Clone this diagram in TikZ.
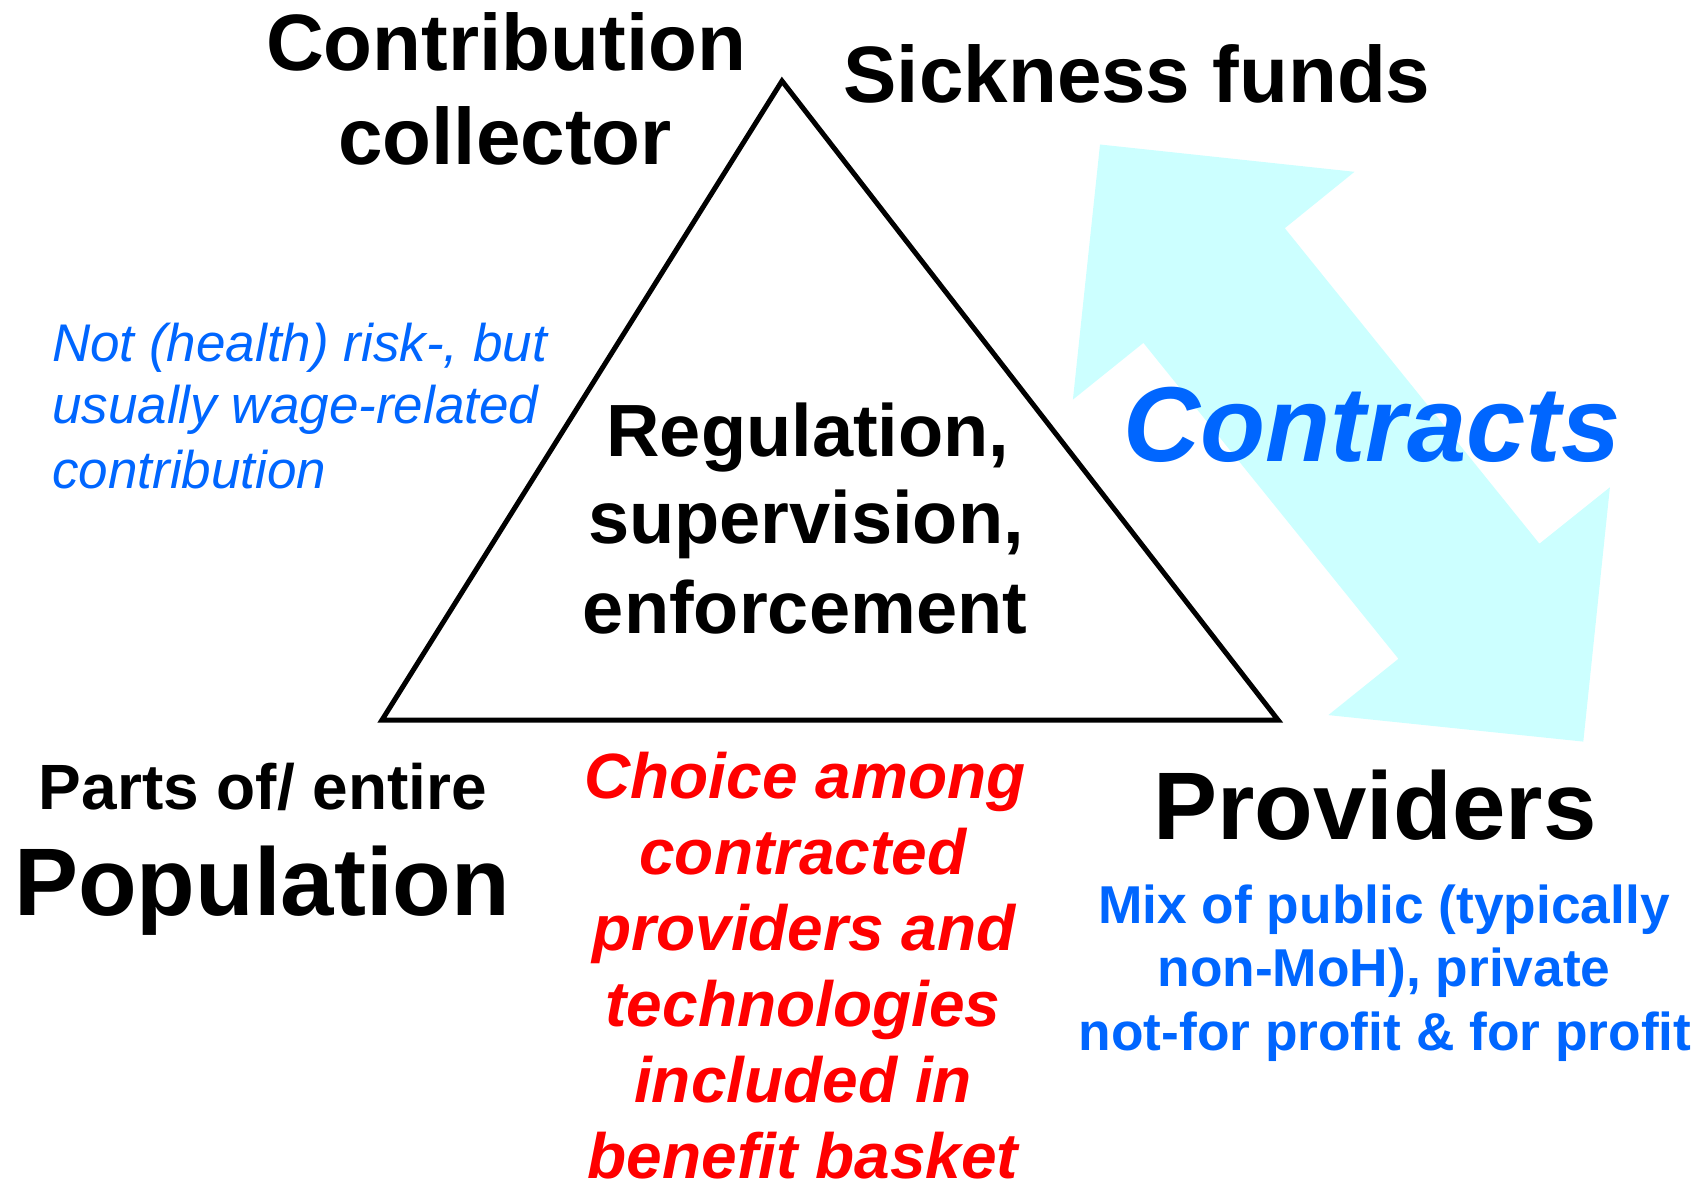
\documentclass[tikz,border=0pt]{standalone}
\usepackage{fontspec}
\setmainfont{Liberation Sans}
\definecolor{txtblue}{HTML}{0066FF}
\definecolor{arrowcyan}{HTML}{CCFFFF}
\definecolor{txtred}{HTML}{FF0000}
\tikzset{
  lbl/.style={inner sep=0pt, anchor=base, font=\bfseries},
  blueit/.style={inner sep=0pt, anchor=base west, text=txtblue, font=\itshape\fontsize{53}{62}\selectfont},
  redit/.style={lbl, text=txtred, font=\bfseries\itshape\fontsize{64}{76}\selectfont},
  mixtxt/.style={lbl, text=txtblue, font=\bfseries\fontsize{53.3}{63}\selectfont},
  regtxt/.style={lbl, font=\bfseries\fontsize{74}{87}\selectfont},
  tri/.style={draw=black, line width=5pt, miter limit=10},
}
\begin{document}
\begin{tikzpicture}[x=1pt,y=-1pt]
\useasboundingbox (0,0) rectangle (1702,1182);
% double arrow
\fill[arrowcyan] (1100,144.5) -- (1354.5,171.8) -- (1284.8,228.2) -- (1539.4,543.7)
  -- (1609.9,487.3) -- (1583.3,741.6) -- (1328.3,715.1) -- (1398.4,658.8)
  -- (1143.4,342.9) -- (1072.9,399.6) -- cycle;
% triangle
\coordinate (apex) at (782,81);
\coordinate (bl) at (382,720);
\coordinate (br) at (1278,720);
\draw[tri] (apex) -- (br) -- (bl) -- cycle;
% top labels
\node[lbl, font=\bfseries\fontsize{80}{90}\selectfont] (contrib1) at (506,70.5) {Contribution};
\node[lbl, font=\bfseries\fontsize{80}{90}\selectfont] (contrib2) at (505,165) {collector};
\node[lbl, font=\bfseries\fontsize{80}{90}\selectfont] (sick) at (1137,103) {Sickness funds};
% centre
\node[regtxt] (reg1) at (808,456) {Regulation,};
\node[regtxt] (reg2) at (806,543) {supervision,};
\node[regtxt] (reg3) at (805,633) {enforcement};
% left blue italic
\node[blueit] (not1) at (52,361) {Not (health) risk-, but};
\node[blueit] (not2) at (52,423) {usually wage-related};
\node[blueit] (not3) at (52,488) {contribution};
% contracts
\node[lbl, text=txtblue, font=\bfseries\itshape\fontsize{106.5}{120}\selectfont] (contracts) at (1372,461) {Contracts};
% population
\node[lbl, font=\bfseries\fontsize{64}{75}\selectfont] (parts) at (263,809) {Parts of/ entire};
\node[lbl, font=\bfseries\fontsize{96}{110}\selectfont] (pop) at (262,915) {Population};
% choice
\node[redit] (ch1) at (805,798) {Choice among};
\node[redit] (ch2) at (803,874) {contracted};
\node[redit] (ch3) at (804,950) {providers and};
\node[redit] (ch4) at (803,1026) {technologies};
\node[redit] (ch5) at (803,1102) {included in};
\node[redit] (ch6) at (803,1178) {benefit basket};
% providers
\node[lbl, font=\bfseries\fontsize{96}{110}\selectfont] (prov) at (1375,839) {Providers};
\node[mixtxt] (mix1) at (1384,923) {Mix of public (typically};
\node[mixtxt] (mix2) at (1384,986) {non-MoH), private};
\node[mixtxt] (mix3) at (1385,1050) {not-for profit \& for profit};
\end{tikzpicture}
\end{document}
